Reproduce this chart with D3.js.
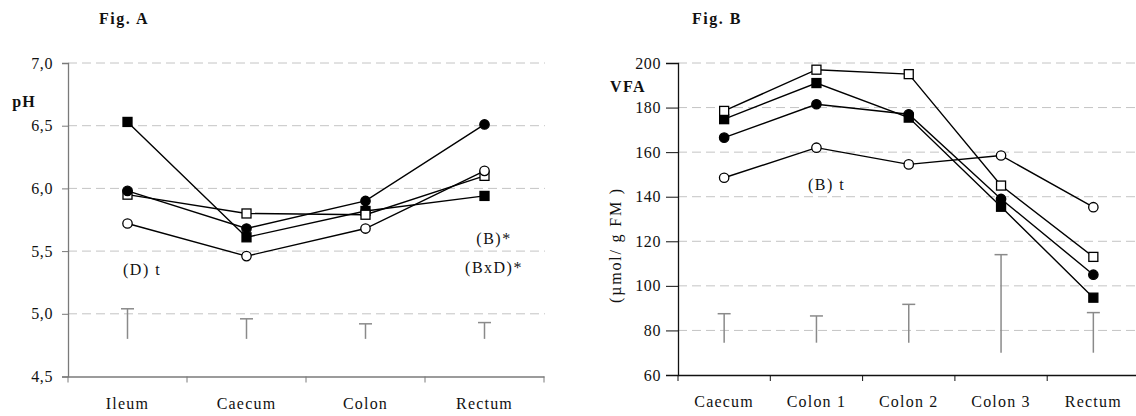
<!DOCTYPE html>
<html><head><meta charset="utf-8">
<script src="https://cdn.jsdelivr.net/npm/d3@7"></script>
<style>
body{margin:0;background:#fff;}
svg text{font-family:"Liberation Serif","Times New Roman",serif;fill:#111;}
</style></head>
<body><svg id="c" width="1136" height="416"></svg>
<script>
// ---- Fig A data (pH) ----
const catsA = ["Ileum","Caecum","Colon","Rectum"];
const ticksA = [4.5,5.0,5.5,6.0,6.5,7.0];
const phFilledSquare = [6.53,5.61,5.82,5.94];
const phFilledCircle = [5.98,5.68,5.90,6.51];
const phOpenSquare   = [5.95,5.80,5.79,6.10];
const phOpenCircle   = [5.72,5.46,5.68,6.14];
const phErrTop = [5.04,4.96,4.92,4.93];
const phErrBottom = [4.80,4.80,4.80,4.80];

// ---- Fig B data (VFA) ----
const catsB = ["Caecum","Colon 1","Colon 2","Colon 3","Rectum"];
const ticksB = [60,80,100,120,140,160,180,200];
const vfaFilledSquare = [174.8,191.0,175.5,135.5,94.7];
const vfaFilledCircle = [166.5,181.5,177.0,139.0,105.0];
const vfaOpenSquare   = [178.5,197.0,195.0,145.0,113.0];
const vfaOpenCircle   = [148.5,162.0,154.5,158.5,135.3];
const vfaErrTop = [87.5,86.5,91.7,114.0,88.0];
const vfaErrBottom = [74.5,74.5,74.5,70.0,70.0];

const svg = d3.select("#c");

function panel(o){
  const g = svg.append("g");
  const x = d3.scaleBand().domain(o.cats).range(o.xr);
  const y = d3.scaleLinear().domain(o.yd).range(o.yr);
  const cx = c => x(c) + x.bandwidth()/2;
  // grid
  g.selectAll(".grid").data(o.ticks.filter(t=>t!==o.yd[0])).enter().append("line")
    .attr("x1",o.xr[0]).attr("x2",o.gridEnd).attr("y1",d=>y(d)).attr("y2",d=>y(d))
    .attr("stroke","#c4c4c4").attr("stroke-width",1).attr("stroke-dasharray","9,5");
  // y axis
  const ya = g.append("g").attr("transform",`translate(${o.xr[0]},0)`)
    .call(d3.axisLeft(y).tickValues(o.ticks).tickFormat(o.fmt).tickSize(o.ytick).tickPadding(o.ypad));
  ya.select(".domain").attr("stroke",o.axisColor).attr("stroke-width",1.3);
  ya.selectAll(".tick line").attr("stroke",o.axisColor).attr("stroke-width",1);
  ya.selectAll(".tick text").attr("font-size",16).attr("letter-spacing","0.6px").attr("font-family","Liberation Serif").attr("fill","#111");
  // x axis
  const xa = g.append("g").attr("transform",`translate(0,${o.yr[0]})`)
    .call(d3.axisBottom(x).tickSize(0).tickPadding(21));
  xa.select(".domain").attr("stroke",o.axisColor).attr("stroke-width",1.3);
  xa.selectAll(".tick text").attr("font-size",16).attr("letter-spacing","1.2px").attr("font-family","Liberation Serif").attr("fill","#111");
  // x boundary ticks
  const bounds = o.cats.map(c=>x(c)).concat([x(o.cats[o.cats.length-1])+x.bandwidth()]);
  g.selectAll(".bt").data(bounds).enter().append("line")
    .attr("x1",d=>d).attr("x2",d=>d).attr("y1",o.yr[0]).attr("y2",o.yr[0]+6)
    .attr("stroke",o.axisColor).attr("stroke-width",1);
  // error bars
  o.cats.forEach((c,i)=>{
    g.append("line").attr("x1",cx(c)).attr("x2",cx(c)).attr("y1",y(o.errTop[i])).attr("y2",y(o.errBot[i]))
      .attr("stroke","#8a8a8a").attr("stroke-width",1.5);
    g.append("line").attr("x1",cx(c)-6.5).attr("x2",cx(c)+6.5).attr("y1",y(o.errTop[i])).attr("y2",y(o.errTop[i]))
      .attr("stroke","#8a8a8a").attr("stroke-width",1.5);
  });
  // series
  const line = d3.line().x((d,i)=>cx(o.cats[i])).y(d=>y(d));
  o.series.forEach(s=>{
    g.append("path").attr("d",line(s.v)).attr("fill","none").attr("stroke","#000").attr("stroke-width",1.4);
  });
  o.series.forEach(s=>{
    s.v.forEach((v,i)=>{
      if(s.shape==="square"){
        g.append("rect").attr("x",cx(o.cats[i])-4.5).attr("y",y(v)-4.5).attr("width",9).attr("height",9)
          .attr("fill",s.fill).attr("stroke","#000").attr("stroke-width",1.3);
      } else {
        g.append("circle").attr("cx",cx(o.cats[i])).attr("cy",y(v)).attr("r",4.7)
          .attr("fill",s.fill).attr("stroke","#000").attr("stroke-width",1.3);
      }
    });
  });
  return {g,x,y};
}

const fmtA = d => d3.format(".1f")(d).replace(".",",");
const A = panel({cats:catsA, xr:[68,544], yd:[4.5,7], yr:[376.5,63], ticks:ticksA, fmt:fmtA,
  gridEnd:545, axisColor:"#7a7a7a", ytick:6, ypad:9,
  errTop:phErrTop, errBot:phErrBottom,
  series:[
    {v:phFilledSquare, shape:"square", fill:"#000"},
    {v:phOpenSquare, shape:"square", fill:"#fff"},
    {v:phFilledCircle, shape:"circle", fill:"#000"},
    {v:phOpenCircle, shape:"circle", fill:"#fff"}]});

const B = panel({cats:catsB, xr:[678,1139.5], yd:[60,200], yr:[375,63], ticks:ticksB, fmt:d3.format("d"),
  gridEnd:1136, axisColor:"#111", ytick:12, ypad:5,
  errTop:vfaErrTop, errBot:vfaErrBottom,
  series:[
    {v:vfaFilledSquare, shape:"square", fill:"#000"},
    {v:vfaOpenSquare, shape:"square", fill:"#fff"},
    {v:vfaFilledCircle, shape:"circle", fill:"#000"},
    {v:vfaOpenCircle, shape:"circle", fill:"#fff"}]});

// titles & labels
svg.append("text").attr("x",124).attr("y",24).attr("text-anchor","middle").attr("font-size",16).attr("font-weight","bold").attr("letter-spacing","1.5px").text("Fig. A");
svg.append("text").attr("x",717).attr("y",24).attr("text-anchor","middle").attr("font-size",16).attr("font-weight","bold").attr("letter-spacing","1.5px").text("Fig. B");
svg.append("text").attr("x",24).attr("y",107).attr("text-anchor","middle").attr("font-size",16).attr("font-weight","bold").attr("letter-spacing","1px").text("pH");
svg.append("text").attr("x",628).attr("y",92).attr("text-anchor","middle").attr("font-size",16).attr("font-weight","bold").attr("letter-spacing","1.5px").text("VFA");
svg.append("text").attr("transform","translate(621,245) rotate(-90)").attr("text-anchor","middle").attr("font-size",16).attr("letter-spacing","1.8px").text("(µmol/ g FM )");
// annotations
svg.append("text").attr("x",123).attr("y",275).attr("font-size",16).attr("letter-spacing","1.5px").text("(D) t");
svg.append("text").attr("x",494).attr("y",244).attr("text-anchor","middle").attr("font-size",16).attr("letter-spacing","1.5px").text("(B)*");
svg.append("text").attr("x",494).attr("y",273).attr("text-anchor","middle").attr("font-size",16).attr("letter-spacing","1.5px").text("(BxD)*");
svg.append("text").attr("x",808).attr("y",190).attr("font-size",16).attr("letter-spacing","1.5px").text("(B) t");
</script></body></html>
